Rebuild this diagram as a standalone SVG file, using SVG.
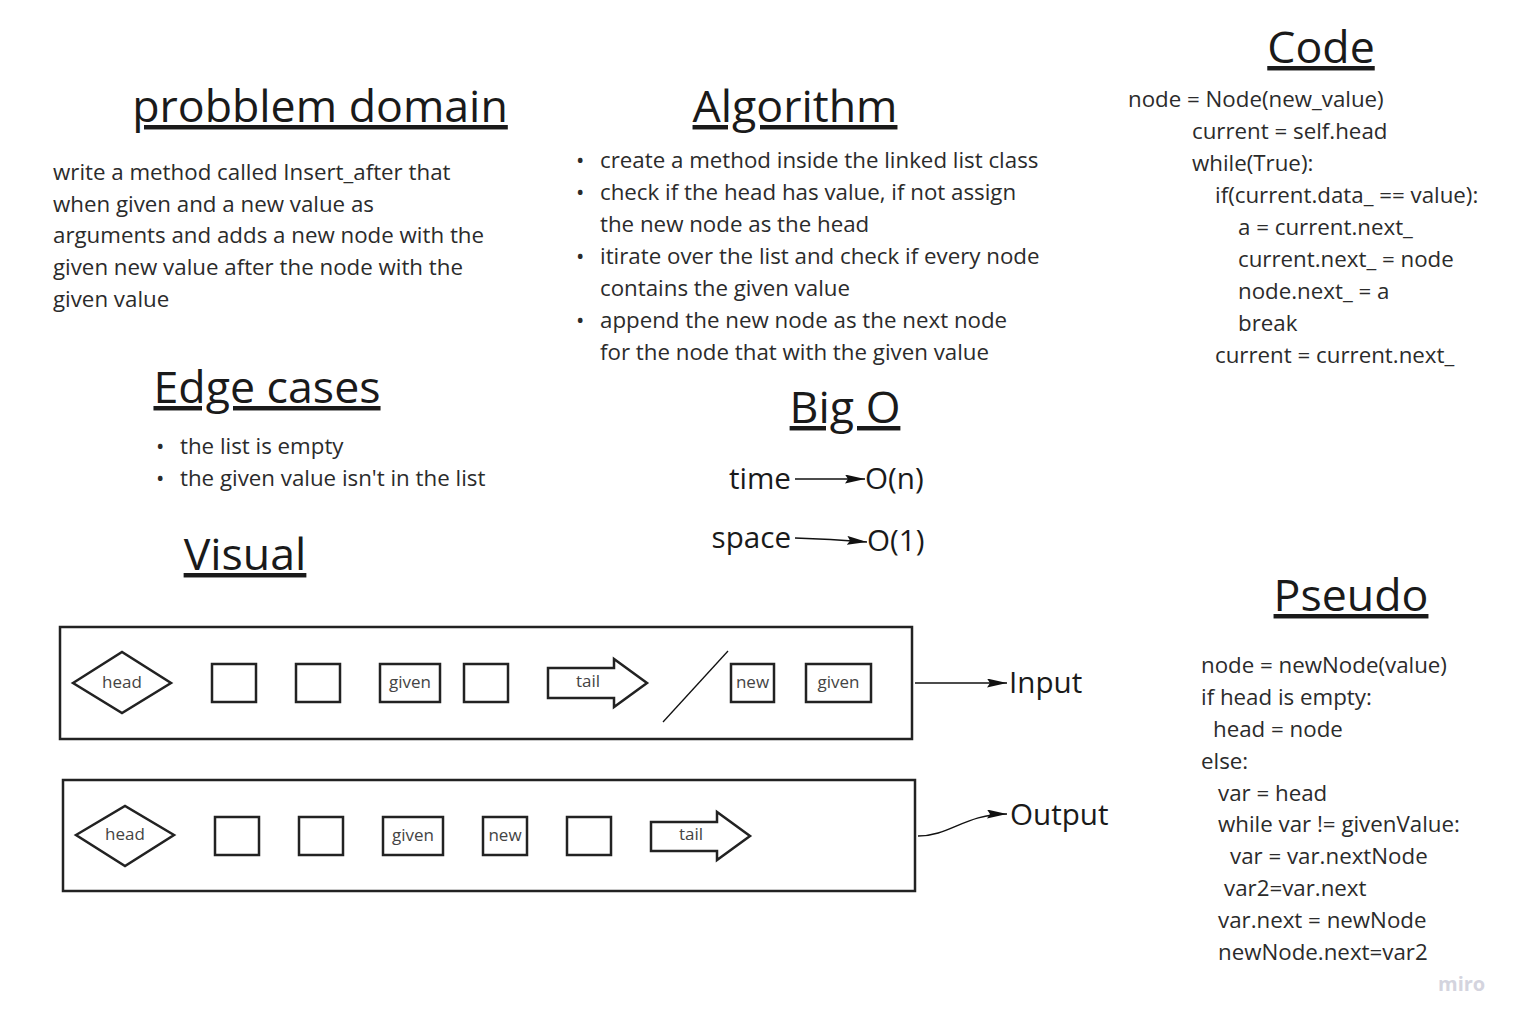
<svg xmlns="http://www.w3.org/2000/svg" width="1521" height="1026" viewBox="0 0 1521 1026">
<defs>
<style>
text{font-family:"Open Sans","Noto Sans","Liberation Sans",sans-serif;fill:#2b2b2b}
.title{font-size:44.7px;text-decoration:underline;fill:#1a1a1a}
.body{font-size:22.3px}
.lbl{font-size:17px;fill:#444}
.big{font-size:29.6px;fill:#1a1a1a}
.shape{fill:#fff;stroke:#222;stroke-width:2.5}
.conn{fill:none;stroke:#111;stroke-width:1.5}
</style>
<marker id="ah" viewBox="0 0 20 10" refX="20" refY="5" markerWidth="20" markerHeight="9" markerUnits="userSpaceOnUse" orient="auto" preserveAspectRatio="none">
<path d="M0,0 L20,5 L0,10 L3,5 Z" fill="#111"/>
</marker>
</defs>
<rect width="1521" height="1026" fill="#fff"/>

<g id="problem-domain">
<text class="title" x="320" y="122" text-anchor="middle">probblem domain</text>
<text class="body" x="53" y="180">write a method called Insert_after that</text>
<text class="body" x="53" y="212">when given and a new value as</text>
<text class="body" x="53" y="243">arguments and adds a new node with the</text>
<text class="body" x="53" y="275">given new value after the node with the</text>
<text class="body" x="53" y="307">given value</text>
</g>

<g id="algorithm">
<text class="title" x="795" y="122" text-anchor="middle">Algorithm</text>
<text class="body" x="576" y="168">•</text><text class="body" x="600" y="168">create a method inside the linked list class</text>
<text class="body" x="576" y="200">•</text><text class="body" x="600" y="200">check if the head has value, if not assign</text>
<text class="body" x="600" y="232">the new node as the head</text>
<text class="body" x="576" y="264">•</text><text class="body" x="600" y="264">itirate over the list and check if every node</text>
<text class="body" x="600" y="296">contains the given value</text>
<text class="body" x="576" y="328">•</text><text class="body" x="600" y="328">append the new node as the next node</text>
<text class="body" x="600" y="360">for the node that with the given value</text>
</g>

<g id="code">
<text class="title" x="1321" y="63" text-anchor="middle">Code</text>
<text class="body" x="1128" y="107">node = Node(new_value)</text>
<text class="body" x="1192" y="139">current = self.head</text>
<text class="body" x="1192" y="171">while(True):</text>
<text class="body" x="1215" y="203">if(current.data_ == value):</text>
<text class="body" x="1238" y="235">a = current.next_</text>
<text class="body" x="1238" y="267">current.next_ = node</text>
<text class="body" x="1238" y="299">node.next_ = a</text>
<text class="body" x="1238" y="331">break</text>
<text class="body" x="1215" y="363">current = current.next_</text>
</g>

<g id="edge-cases">
<text class="title" x="267" y="403" text-anchor="middle">Edge cases</text>
<text class="body" x="156" y="454">•</text><text class="body" x="180" y="454">the list is empty</text>
<text class="body" x="156" y="486">•</text><text class="body" x="180" y="486">the given value isn't in the list</text>
</g>

<g id="big-o">
<text class="title" x="845" y="423" text-anchor="middle">Big O</text>
<text class="big" x="791" y="489" text-anchor="end">time</text>
<text class="big" x="865" y="489">O(n)</text>
<text class="big" x="791" y="548" text-anchor="end">space</text>
<text class="big" x="867" y="551">O(1)</text>
</g>

<g id="visual-title">
<text class="title" x="245" y="570" text-anchor="middle">Visual</text>
</g>

<g id="pseudo">
<text class="title" x="1351" y="611" text-anchor="middle">Pseudo</text>
<text class="body" x="1201" y="673">node = newNode(value)</text>
<text class="body" x="1201" y="705">if head is empty:</text>
<text class="body" x="1213" y="737">head = node</text>
<text class="body" x="1201" y="769">else:</text>
<text class="body" x="1218" y="801">var = head</text>
<text class="body" x="1218" y="832">while var != givenValue:</text>
<text class="body" x="1230" y="864">var = var.nextNode</text>
<text class="body" x="1224" y="896">var2=var.next</text>
<text class="body" x="1218" y="928">var.next = newNode</text>
<text class="body" x="1218" y="960">newNode.next=var2</text>
</g>

<g id="input-frame">
<rect class="shape" x="60" y="627" width="852" height="112"/>
</g>
<g id="input-head">
<polygon class="shape" points="73,683 122,652 171,683 122,713"/>
<text class="lbl" x="122" y="688" text-anchor="middle">head</text>
</g>
<g id="input-n1"><rect class="shape" x="212" y="664" width="44" height="38"/></g>
<g id="input-n2"><rect class="shape" x="296" y="664" width="44" height="38"/></g>
<g id="input-given"><rect class="shape" x="380" y="664" width="60" height="38"/><text class="lbl" x="410" y="688" text-anchor="middle">given</text></g>
<g id="input-n3"><rect class="shape" x="464" y="664" width="44" height="38"/></g>
<g id="input-tail">
<polygon class="shape" points="548,668 614,668 614,659 647,683 614,707 614,698 548,698"/>
<text class="lbl" x="588" y="687" text-anchor="middle">tail</text>
</g>
<g id="input-slash"><line x1="728" y1="651" x2="663" y2="722" stroke="#111" stroke-width="1.3"/></g>
<g id="input-new"><rect class="shape" x="731" y="664" width="43" height="38"/><text class="lbl" x="752.500" y="688" text-anchor="middle">new</text></g>
<g id="input-given2"><rect class="shape" x="806" y="664" width="65" height="38"/><text class="lbl" x="838.500" y="688" text-anchor="middle">given</text></g>
<g id="input-label"><text class="big" x="1009" y="693">Input</text></g>

<g id="output-frame">
<rect class="shape" x="63" y="780" width="852" height="111"/>
</g>
<g id="output-head">
<polygon class="shape" points="76,835 125,806 174,835 125,866"/>
<text class="lbl" x="125" y="840" text-anchor="middle">head</text>
</g>
<g id="output-n1"><rect class="shape" x="215" y="817" width="44" height="38"/></g>
<g id="output-n2"><rect class="shape" x="299" y="817" width="44" height="38"/></g>
<g id="output-given"><rect class="shape" x="383" y="817" width="60" height="38"/><text class="lbl" x="413" y="841" text-anchor="middle">given</text></g>
<g id="output-new"><rect class="shape" x="483" y="817" width="44" height="38"/><text class="lbl" x="505" y="841" text-anchor="middle">new</text></g>
<g id="output-n3"><rect class="shape" x="567" y="817" width="44" height="38"/></g>
<g id="output-tail">
<polygon class="shape" points="651,822 717,822 717,812 750,836 717,860 717,851 651,851"/>
<text class="lbl" x="691" y="840" text-anchor="middle">tail</text>
</g>
<g id="output-label"><text class="big" x="1010" y="825">Output</text></g>

<g id="miro"><text x="1438" y="991" style="font-size:20px;font-weight:bold;fill:#d4d4de">miro</text></g>

<g id="connectors">
<path class="conn" d="M795,479 L865,479" marker-end="url(#ah)"/>
<path class="conn" d="M795,538 Q830,539 867,542" marker-end="url(#ah)"/>
<path class="conn" d="M915,683 L1007,683" marker-end="url(#ah)"/>
<path class="conn" d="M918,836 C950,836 965,814 1007,814" marker-end="url(#ah)"/>
</g>
</svg>
